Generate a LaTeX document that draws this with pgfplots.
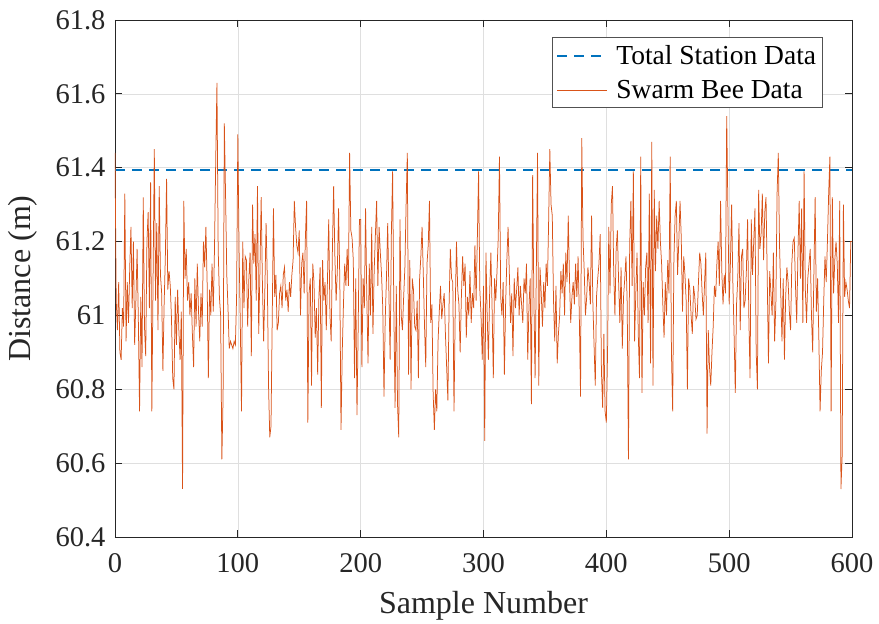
\documentclass[border=0pt]{standalone}
\usepackage{pgfplots}
\pgfplotsset{compat=1.18}
\usepackage{fontspec}
\setmainfont{Liberation Serif}
\definecolor{mblue}{HTML}{0072BD}
\definecolor{morange}{HTML}{D95319}
\definecolor{axgray}{HTML}{262626}
\begin{document}
\begin{tikzpicture}
\useasboundingbox (-115pt,-87pt) rectangle (764pt,537pt);
\begin{axis}[
  at={(0,0)}, anchor=south west,
  scale only axis, width=737pt, height=517pt,
  xmin=0, xmax=600, ymin=60.4, ymax=61.8,
  xtick={0,100,...,600},
  ytick={60.4,60.6,60.8,61,61.2,61.4,61.6,61.8},
  yticklabels={60.4,60.6,60.8,61,61.2,61.4,61.6,61.8},
  /pgf/number format/assume math mode=true,
  tick label style={font=\fontsize{28.5}{32}\selectfont, text=axgray},
  xticklabel style={yshift=-13pt},
  yticklabel style={xshift=-6pt},
  label style={font=\fontsize{32}{36}\selectfont, text=axgray},
  xlabel={Sample Number}, ylabel={Distance (m)},
  xlabel style={yshift=-12pt},
  ylabel style={yshift=11pt},
  axis line style={axgray, line width=0.8pt},
  tick style={axgray, line width=0.8pt},
  major tick length=7pt,
  tick align=inside,
  xtick pos=both, ytick pos=both,
  grid=major,
  major grid style={gray!25, line width=0.6pt},
  legend style={at={(0.960,0.967)}, anchor=north east, draw=axgray!80, line width=0.8pt,
    font=\fontsize{27.5}{30}\selectfont, row sep=10pt, inner xsep=4pt, inner ysep=6pt, fill=white},
  legend cell align=left,
  legend image code/.code={\draw[#1] (0pt,0pt) -- (50pt,0pt); \path (56pt,0pt);},
]
\addplot[mblue, line width=2.2pt, dash pattern=on 10pt off 7pt] coordinates {(0,61.393) (600,61.393)};
\addlegendentry{Total Station Data}
\addplot[morange, line width=0.75pt] table[x expr=\coordindex, y index=0, header=false, row sep=\\] {
61.44\\61.04\\60.96\\61.09\\60.90\\60.88\\61.02\\60.97\\61.33\\60.93\\
61.09\\60.98\\61.13\\61.24\\61.02\\61.20\\60.92\\61.04\\61.18\\60.99\\
60.74\\61.05\\60.86\\61.32\\60.97\\60.89\\61.20\\61.28\\61.02\\61.36\\
60.74\\61.10\\61.45\\61.04\\61.25\\60.96\\61.35\\61.11\\61.06\\60.85\\
61.03\\61.16\\61.37\\61.07\\61.12\\61.08\\60.99\\60.83\\60.80\\61.05\\
60.92\\61.07\\60.96\\60.88\\61.01\\60.53\\61.31\\61.10\\61.18\\61.04\\
61.09\\61.00\\61.06\\60.95\\60.86\\61.10\\60.97\\61.14\\61.01\\60.93\\
61.06\\60.97\\61.20\\61.13\\61.24\\61.09\\60.83\\61.07\\61.00\\61.14\\
61.01\\61.18\\61.42\\61.63\\61.18\\61.05\\61.00\\60.61\\60.78\\61.52\\
61.33\\61.11\\61.02\\60.91\\60.93\\60.92\\60.91\\60.93\\60.92\\61.05\\
61.49\\61.18\\60.98\\60.74\\61.20\\61.02\\61.16\\61.15\\60.97\\61.10\\
61.17\\60.89\\61.30\\61.14\\61.22\\61.04\\61.35\\60.95\\61.12\\61.32\\
61.09\\60.93\\61.07\\61.25\\61.10\\60.81\\60.67\\60.70\\60.99\\61.29\\
61.05\\61.11\\60.96\\60.98\\61.06\\61.08\\61.02\\61.11\\61.13\\61.04\\
61.07\\61.01\\61.09\\61.05\\61.11\\61.15\\61.31\\61.24\\61.19\\61.17\\
61.23\\61.00\\61.14\\61.17\\61.06\\61.21\\61.31\\60.71\\61.06\\61.10\\
60.81\\61.14\\61.09\\60.94\\61.02\\60.84\\61.05\\61.13\\60.75\\61.15\\
61.04\\61.09\\60.96\\61.10\\61.26\\61.00\\60.93\\61.18\\61.35\\61.16\\
61.04\\61.12\\61.29\\61.10\\60.69\\60.90\\61.03\\61.14\\61.08\\61.18\\
61.08\\61.44\\61.23\\61.21\\61.15\\60.83\\61.10\\60.73\\60.97\\61.26\\
61.26\\60.86\\61.10\\61.02\\61.29\\61.05\\60.87\\61.14\\61.00\\61.24\\
60.95\\61.12\\61.22\\61.31\\61.08\\61.24\\61.17\\61.11\\61.02\\60.78\\
60.99\\61.10\\61.25\\61.06\\60.88\\61.22\\61.39\\61.02\\60.75\\61.08\\
60.76\\60.67\\61.26\\61.00\\60.96\\61.05\\61.13\\61.30\\61.44\\60.84\\
61.15\\60.80\\61.10\\61.07\\60.97\\60.96\\61.04\\60.83\\61.10\\61.16\\
61.24\\61.11\\60.97\\60.86\\61.14\\61.19\\61.31\\60.98\\61.03\\60.79\\
60.69\\60.80\\60.74\\60.93\\61.01\\61.08\\60.99\\61.03\\61.06\\60.95\\
60.86\\60.77\\61.03\\61.18\\61.10\\61.09\\60.74\\61.02\\61.20\\61.07\\
61.03\\60.90\\61.05\\61.16\\61.08\\61.14\\60.94\\61.05\\61.00\\61.12\\
60.98\\61.06\\61.02\\61.19\\61.04\\61.21\\61.39\\61.07\\61.00\\60.88\\
61.08\\60.66\\61.17\\61.00\\60.88\\61.06\\61.17\\61.02\\60.83\\61.10\\
61.04\\61.12\\61.21\\61.43\\61.05\\61.00\\61.09\\60.84\\61.03\\61.15\\
61.24\\61.12\\60.98\\61.06\\60.89\\61.10\\61.02\\61.07\\61.13\\61.00\\
61.08\\61.03\\60.98\\61.10\\61.06\\61.14\\60.88\\61.02\\61.10\\60.76\\
61.38\\61.05\\60.83\\61.12\\61.44\\60.81\\61.13\\61.06\\60.97\\61.09\\
61.02\\61.14\\61.08\\61.25\\61.45\\61.30\\61.27\\61.04\\60.93\\61.08\\
60.87\\60.95\\61.00\\61.12\\61.06\\61.14\\61.00\\61.17\\61.09\\61.27\\
61.10\\60.98\\61.05\\61.09\\61.03\\61.14\\61.05\\61.16\\61.00\\60.78\\
61.48\\61.21\\61.12\\61.00\\61.05\\61.13\\61.09\\61.03\\61.27\\61.04\\
60.92\\60.81\\61.05\\61.10\\61.14\\61.22\\60.85\\60.75\\60.95\\60.74\\
60.71\\60.90\\61.24\\61.06\\61.30\\61.35\\61.12\\61.00\\61.18\\61.23\\
61.09\\60.98\\61.13\\60.91\\61.05\\61.10\\61.16\\61.03\\60.61\\61.19\\
61.31\\61.08\\61.39\\60.93\\61.06\\61.17\\60.95\\60.83\\61.43\\60.79\\
61.09\\61.00\\61.13\\61.17\\60.98\\61.33\\60.87\\61.47\\60.81\\61.34\\
61.12\\61.27\\61.18\\61.31\\61.20\\61.14\\61.03\\60.94\\61.09\\61.00\\
61.15\\61.06\\61.43\\60.90\\60.74\\61.15\\61.27\\61.31\\61.11\\61.20\\
61.31\\61.21\\61.01\\61.16\\61.11\\61.04\\60.80\\61.10\\61.07\\61.00\\
60.95\\61.08\\61.05\\60.99\\61.00\\61.09\\61.17\\61.14\\61.06\\61.00\\
61.09\\61.17\\60.68\\60.96\\60.86\\60.81\\60.90\\60.97\\61.08\\61.05\\
61.14\\61.20\\61.08\\61.31\\61.12\\61.03\\61.11\\61.06\\61.54\\61.28\\
61.03\\61.14\\61.30\\61.09\\60.95\\60.79\\61.03\\61.10\\61.25\\60.96\\
61.16\\61.18\\61.02\\61.04\\61.12\\61.26\\61.00\\60.83\\61.26\\61.11\\
61.20\\61.29\\60.90\\60.80\\61.34\\61.18\\61.22\\61.33\\61.15\\61.28\\
61.32\\61.10\\60.87\\61.12\\61.06\\61.00\\61.17\\60.93\\61.03\\61.33\\
61.44\\61.19\\61.06\\60.93\\61.10\\60.88\\61.05\\61.13\\61.09\\61.01\\
60.96\\61.14\\61.20\\61.21\\61.08\\60.98\\61.17\\61.31\\61.10\\61.29\\
60.98\\61.39\\61.07\\60.98\\61.10\\61.14\\61.18\\61.00\\60.90\\61.12\\
61.32\\61.01\\61.10\\60.94\\60.74\\60.85\\60.90\\61.04\\61.16\\61.09\\
61.20\\61.33\\61.43\\60.74\\61.32\\61.06\\61.15\\61.20\\61.14\\60.98\\
61.31\\60.53\\60.62\\61.30\\61.05\\61.09\\61.07\\61.04\\61.02\\61.20\\
61.20\\
};
\addlegendentry{Swarm Bee Data}
\end{axis}
\end{tikzpicture}
\end{document}
